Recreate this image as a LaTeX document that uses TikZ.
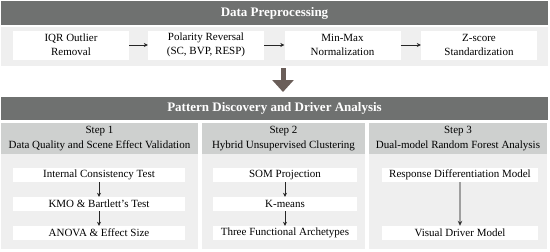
\documentclass[tikz,border=0pt]{standalone}
\usepackage{fontspec}
\setmainfont{Liberation Serif}
\usetikzlibrary{arrows.meta, positioning}
\definecolor{cbar}{HTML}{6F7170}
\definecolor{cpanel}{HTML}{EFEFEF}
\definecolor{cstep}{HTML}{CED0CF}
\definecolor{cflow}{HTML}{6A5E59}

\begin{document}
\begin{tikzpicture}[x=1pt, y=-1pt,
  bar/.style={fill=cbar, text=white, font=\fontsize{13}{15}\selectfont\bfseries,
              minimum width=547pt, minimum height=24pt, inner sep=0pt},
  panel/.style={fill=cpanel, inner sep=0pt},
  head/.style={fill=cstep, font=\fontsize{11}{14.5}\selectfont, align=center,
               inner sep=0pt, minimum height=31pt},
  box/.style={fill=white, font=\fontsize{11}{14}\selectfont, align=center,
              minimum width=116pt, minimum height=29pt, inner sep=0pt},
  sbox/.style={fill=white, font=\fontsize{11}{12}\selectfont,
               minimum height=14pt, inner sep=0pt},
  arr/.style={-{Stealth[length=4pt, width=4pt]}, black!85, line width=0.6pt},
  bigarr/.style={-{Triangle[length=12pt, width=21pt]}, cflow, line width=5pt}
]
\useasboundingbox (0,0) rectangle (550,252);

% preprocessing
\node[bar] (prep) at (274.5,13) {Data Preprocessing};
\node[panel, minimum width=547pt, minimum height=39pt] (preppanel) at (274.5,46.5) {};
\node[box] (iqr) at (71,45)    {IQR Outlier\\Removal};
\node[box] (pol) at (206,45)   {Polarity Reversal\\(SC, BVP, RESP)};
\node[box] (mm)  at (342.5,45) {Min-Max\\Normalization};
\node[box] (zs)  at (479,45)   {Z-score\\Standardization};

\draw[arr] (iqr) -- (pol);
\draw[arr] (pol) -- (mm);
\draw[arr] (mm)  -- (zs);

% flow arrow
\coordinate (flowtop) at (283,68);
\coordinate (flowend) at (283,92);
\draw[bigarr] (flowtop) -- (flowend);

% analysis
\node[bar, minimum height=23pt] (disc) at (274.5,108.5) {Pattern Discovery and Driver Analysis};

\node[panel, minimum width=197pt, minimum height=126pt] (p1) at (99.5,186) {};
\node[panel, minimum width=163pt, minimum height=126pt] (p2) at (283.5,186) {};
\node[panel, minimum width=178pt, minimum height=126pt] (p3) at (458,186) {};
\node[head, minimum width=197pt] (h1) at (99.5,138.5) {Step 1\\Data Quality and Scene Effect Validation};
\node[head, minimum width=163pt] (h2) at (283.5,138.5) {Step 2\\Hybrid Unsupervised Clustering};
\node[head, minimum width=178pt] (h3) at (458,138.5) {Step 3\\Dual-model Random Forest Analysis};

\node[sbox, minimum width=172pt] (icons) at (99,175) {Internal Consistency Test};
\node[sbox, minimum width=172pt] (kmo)   at (99,204) {KMO \& Bartlett's Test};
\node[sbox, minimum width=172pt] (anova) at (99,233) {ANOVA \& Effect Size};

\node[sbox, minimum width=144pt] (som)   at (285,175) {SOM Projection};
\node[sbox, minimum width=144pt] (kmean) at (285,204) {K-means};
\node[sbox, minimum width=144pt] (arche) at (285,233) {Three Functional Archetypes};

\node[sbox, minimum width=156pt] (resp)  at (460,175) {Response Differentiation Model};
\node[sbox, minimum width=156pt] (vis)   at (460,233) {Visual Driver Model};

\draw[arr] (icons) -- (kmo);
\draw[arr] (kmo)   -- (anova);
\draw[arr] (som)   -- (kmean);
\draw[arr] (kmean) -- (arche);
\draw[-{Stealth[length=5pt, width=4.5pt, color=black!80]}, gray!75, line width=1.1pt] (resp) -- (vis);
\end{tikzpicture}
\end{document}
